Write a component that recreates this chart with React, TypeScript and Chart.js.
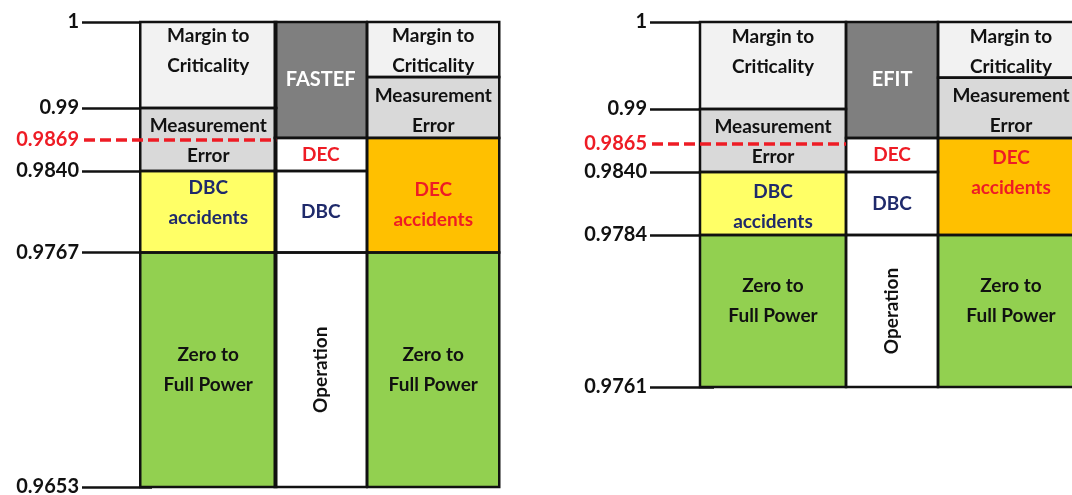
import React, { useEffect, useRef } from "react";
import { Chart, registerables, LinearScale } from "chart.js";

Chart.register(...registerables);

// ---------------- DATA ----------------
// Left panel: FASTEF
const FASTEF_TICKS = [1, 0.99, 0.9869, 0.984, 0.9767, 0.9653];
const FASTEF_TICK_LABELS = ["1", "0.99", "0.9869", "0.9840", "0.9767", "0.9653"];
const FASTEF_LIMIT = 0.9869;
const FASTEF_COLUMNS = ["Limits", "FASTEF", "Design"];
const FASTEF_COL1 = [[0.99, 1], [0.984, 0.99], [0.9767, 0.984], [0.9653, 0.9767]];
const FASTEF_COL1_LABELS = ["Margin to\nCriticality", "Measurement\nError", "DBC\naccidents", "Zero to\nFull Power"];
const FASTEF_COL2 = [[0.9871, 1], [0.984, 0.9871], [0.9767, 0.984], [0.9653, 0.9767]];
const FASTEF_COL2_LABELS = ["FASTEF", "DEC", "DBC", "Operation"];
const FASTEF_COL3 = [[0.9936, 1], [0.9871, 0.9936], [0.9767, 0.9871], [0.9653, 0.9767]];
const FASTEF_COL3_LABELS = ["Margin to\nCriticality", "Measurement\nError", "DEC\naccidents", "Zero to\nFull Power"];

// Right panel: EFIT
const EFIT_TICKS = [1, 0.99, 0.9865, 0.984, 0.9784, 0.9761];
const EFIT_TICK_LABELS = ["1", "0.99", "0.9865", "0.9840", "0.9784", "0.9761"];
const EFIT_LIMIT = 0.9865;
const EFIT_COLUMNS = ["Limits", "EFIT", "Design"];
const EFIT_COL1 = [[0.99, 1], [0.984, 0.99], [0.9784, 0.984], [0.9761, 0.9784]];
const EFIT_COL1_LABELS = ["Margin to\nCriticality", "Measurement\nError", "DBC\naccidents", "Zero to\nFull Power"];
const EFIT_COL2 = [[0.9871, 1], [0.984, 0.9871], [0.9784, 0.984], [0.9761, 0.9784]];
const EFIT_COL2_LABELS = ["EFIT", "DEC", "DBC", "Operation"];
const EFIT_COL3 = [[0.9936, 1], [0.9871, 0.9936], [0.9784, 0.9871], [0.9761, 0.9784]];
const EFIT_COL3_LABELS = ["Margin to\nCriticality", "Measurement\nError", "DEC\naccidents", "Zero to\nFull Power"];

// ---------------- STYLES ----------------
const FONT = "Lato, 'Open Sans', sans-serif";
const NAVY = "#1f2a6b";
const RED = "#ee1c25";
type SegStyle = { bg: string; color: string; valign: number | "middle"; rotate?: boolean; size?: number };
const COL1_STYLE: SegStyle[] = [
  { bg: "#f2f2f2", color: "#111", valign: 14 },
  { bg: "#d9d9d9", color: "#111", valign: 18 },
  { bg: "#ffff66", color: NAVY, valign: 17 },
  { bg: "#92d050", color: "#111", valign: "middle" },
];
const COL2_STYLE: SegStyle[] = [
  { bg: "#7f7f7f", color: "#ffffff", valign: "middle", size: 20 },
  { bg: "#ffffff", color: RED, valign: "middle" },
  { bg: "#ffffff", color: NAVY, valign: "middle" },
  { bg: "#ffffff", color: "#111", valign: "middle", rotate: true },
];
const COL3_STYLE_LEFT: SegStyle[] = [
  { bg: "#f2f2f2", color: "#111", valign: 14 },
  { bg: "#d9d9d9", color: "#111", valign: 19 },
  { bg: "#ffc000", color: RED, valign: 52 },
  { bg: "#92d050", color: "#111", valign: "middle" },
];
const COL3_STYLE_RIGHT: SegStyle[] = [
  { bg: "#f2f2f2", color: "#111", valign: 15 },
  { bg: "#d9d9d9", color: "#111", valign: 18 },
  { bg: "#ffc000", color: RED, valign: 20 },
  { bg: "#92d050", color: "#111", valign: 51 },
];
const COL1_STYLE_RIGHT: SegStyle[] = [
  { bg: "#f2f2f2", color: "#111", valign: 15 },
  { bg: "#d9d9d9", color: "#111", valign: 18 },
  { bg: "#ffff66", color: NAVY, valign: 20 },
  { bg: "#92d050", color: "#111", valign: 51 },
];

// ---------------- PIECEWISE SCALE ----------------
class PiecewiseScale extends LinearScale {
  static id = "piecewise";
  static defaults = (LinearScale as any).defaults;
  getPixelForValue(value: number) {
    const knots: [number, number][] = (this.options as any).knots;
    if (value === null || value === undefined || isNaN(value)) return NaN;
    let frac = 0;
    if (value >= knots[0][0]) frac = knots[0][1];
    else if (value <= knots[knots.length - 1][0]) frac = knots[knots.length - 1][1];
    else {
      for (let i = 0; i < knots.length - 1; i++) {
        const [v0, f0] = knots[i];
        const [v1, f1] = knots[i + 1];
        if (value <= v0 && value >= v1) {
          frac = f0 + ((v0 - value) / (v0 - v1)) * (f1 - f0);
          break;
        }
      }
    }
    return this.top + frac * (this.bottom - this.top);
  }
  getValueForPixel(pixel: number) {
    const knots: [number, number][] = (this.options as any).knots;
    const frac = (pixel - this.top) / (this.bottom - this.top);
    for (let i = 0; i < knots.length - 1; i++) {
      const [v0, f0] = knots[i];
      const [v1, f1] = knots[i + 1];
      if (frac >= f0 && frac <= f1) return v0 + ((frac - f0) / (f1 - f0)) * (v1 - v0);
    }
    return frac < 0 ? knots[0][0] : knots[knots.length - 1][0];
  }
}
Chart.register(PiecewiseScale as any);

type PanelCfg = {
  ticks: number[];
  tickLabels: string[];
  limit: number;
  columns: string[];
  cols: number[][][];
  labels: string[][];
  styles: SegStyle[][];
  thickness: number[];
  knotFracs: number[];
  yWidth: number;
  tickLength: number;
  padding: { top: number; bottom: number; right: number; left: number };
};

const CANVAS_W = 530;
const CANVAS_H = 520;

const LEFT: PanelCfg = {
  ticks: FASTEF_TICKS,
  tickLabels: FASTEF_TICK_LABELS,
  limit: FASTEF_LIMIT,
  columns: FASTEF_COLUMNS,
  cols: [FASTEF_COL1, FASTEF_COL2, FASTEF_COL3],
  labels: [FASTEF_COL1_LABELS, FASTEF_COL2_LABELS, FASTEF_COL3_LABELS],
  styles: [COL1_STYLE, COL2_STYLE, COL3_STYLE_LEFT],
  thickness: [136, 92, 132],
  knotFracs: [0, 86 / 465, 118 / 465, 149 / 465, 230.5 / 465, 1],
  yWidth: 152,
  tickLength: 70,
  padding: { top: 22, bottom: CANVAS_H - 487, right: 40.5, left: 0 },
};

const RIGHT: PanelCfg = {
  ticks: EFIT_TICKS,
  tickLabels: EFIT_TICK_LABELS,
  limit: EFIT_LIMIT,
  columns: EFIT_COLUMNS,
  cols: [EFIT_COL1, EFIT_COL2, EFIT_COL3],
  labels: [EFIT_COL1_LABELS, EFIT_COL2_LABELS, EFIT_COL3_LABELS],
  styles: [COL1_STYLE_RIGHT, COL2_STYLE, COL3_STYLE_RIGHT],
  thickness: [146, 92, 146],
  knotFracs: [0, 87 / 365, 122 / 365, 150 / 365, 213 / 365, 1],
  yWidth: 153.5,
  tickLength: 63.5,
  padding: { top: 22, bottom: CANVAS_H - 387, right: 19.5, left: 0 },
};

function buildChart(canvas: HTMLCanvasElement, cfg: PanelCfg) {
  const datasets: any[] = [];
  cfg.cols.forEach((segs, ci) => {
    segs.forEach((seg, si) => {
      const data = cfg.columns.map((_, k) => (k === ci ? seg : null));
      datasets.push({
        label: cfg.labels[ci][si],
        data,
        backgroundColor: cfg.styles[ci][si].bg,
        borderWidth: 0,
        grouped: false,
        barThickness: cfg.thickness[ci],
        clip: false,
        inflateAmount: 0,
        _style: cfg.styles[ci][si],
        _col: ci,
      });
    });
  });

  const knots = cfg.ticks.map((v, i) => [v, cfg.knotFracs[i]]);

  const overlay = {
    id: "overlay",
    afterDatasetsDraw(chart: any) {
      const ctx = chart.ctx as CanvasRenderingContext2D;
      const y = chart.scales.y;
      // borders
      ctx.save();
      ctx.strokeStyle = "#111";
      ctx.lineWidth = 2.5;
      chart.data.datasets.forEach((ds: any, di: number) => {
        const meta = chart.getDatasetMeta(di);
        meta.data.forEach((el: any, idx: number) => {
          if (ds.data[idx] == null) return;
          const { x, y: top, base, width } = el.getProps(["x", "y", "base", "width"], true);
          ctx.strokeRect(x - width / 2, Math.min(top, base), width, Math.abs(base - top));
        });
      });
      ctx.restore();

      // red dashed limit line across first column
      const col1Meta = chart.getDatasetMeta(0);
      const el0 = col1Meta.data[0];
      const p0 = el0.getProps(["x", "width"], true);
      const ly = y.getPixelForValue(cfg.limit);
      ctx.save();
      ctx.strokeStyle = RED;
      ctx.lineWidth = 3.5;
      ctx.setLineDash([11, 5]);
      ctx.beginPath();
      ctx.moveTo(chart.chartArea.left - cfg.tickLength + 2, ly);
      ctx.lineTo(p0.x + p0.width / 2, ly);
      ctx.stroke();
      ctx.restore();

      // labels
      chart.data.datasets.forEach((ds: any, di: number) => {
        const meta = chart.getDatasetMeta(di);
        meta.data.forEach((el: any, idx: number) => {
          if (ds.data[idx] == null) return;
          const st: SegStyle = ds._style;
          const { x, y: top, base } = el.getProps(["x", "y", "base"], true);
          const t = Math.min(top, base);
          const b = Math.max(top, base);
          const lines = String(ds.label).split("\n");
          const lh = 30;
          const size = st.size || 19;
          ctx.save();
          ctx.fillStyle = st.color;
          ctx.font = `bold ${size}px ${FONT}`;
          ctx.textAlign = "center";
          ctx.textBaseline = "middle";
          if (st.rotate) {
            ctx.translate(x, (t + b) / 2);
            ctx.rotate(-Math.PI / 2);
            ctx.fillText(lines[0], 0, 0);
          } else {
            let y0: number;
            if (st.valign === "middle") y0 = (t + b) / 2 - ((lines.length - 1) * lh) / 2;
            else y0 = t + st.valign;
            lines.forEach((ln, li) => ctx.fillText(ln, x, y0 + li * lh));
          }
          ctx.restore();
        });
      });
    },
  };

  return new Chart(canvas, {
    type: "bar",
    data: { labels: cfg.columns, datasets },
    options: {
      responsive: false,
      animation: false,
      devicePixelRatio: 1,
      layout: { padding: cfg.padding },
      plugins: { legend: { display: false }, tooltip: { enabled: false } },
      scales: {
        x: { type: "category", display: false, offset: true },
        y: {
          type: "piecewise",
          knots,
          min: cfg.ticks[cfg.ticks.length - 1],
          max: cfg.ticks[0],
          afterBuildTicks: (scale: any) => {
            scale.ticks = cfg.ticks.map((v) => ({ value: v }));
          },
          afterFit: (scale: any) => {
            scale.width = cfg.yWidth;
          },
          border: { display: false },
          grid: {
            drawOnChartArea: false,
            drawTicks: true,
            tickLength: cfg.tickLength,
            tickWidth: 2.5,
            tickColor: (c: any) => (c.tick && c.tick.value === cfg.limit ? "rgba(0,0,0,0)" : "#111"),
          },
          ticks: {
            autoSkip: false,
            padding: 3,
            color: (c: any) => (c.tick && c.tick.value === cfg.limit ? RED : "#111"),
            font: { family: FONT, weight: "bold", size: 20, lineHeight: 1 },
            callback: (v: any) => {
              const i = cfg.ticks.indexOf(Number(v));
              return i >= 0 ? cfg.tickLabels[i] : "";
            },
          },
        } as any,
      },
    } as any,
    plugins: [overlay],
  });
}

function Panel({ cfg, left }: { cfg: PanelCfg; left: number }) {
  const ref = useRef<HTMLCanvasElement>(null);
  useEffect(() => {
    if (!ref.current) return;
    const ch = buildChart(ref.current, cfg);
    return () => ch.destroy();
  }, [cfg]);
  return (
    <div style={{ position: "absolute", left, top: 0, width: CANVAS_W, height: CANVAS_H }}>
      <canvas
        ref={ref}
        width={CANVAS_W}
        height={CANVAS_H}
        style={{ width: CANVAS_W, height: CANVAS_H, display: "block" }}
      />
    </div>
  );
}

export default function App() {
  return (
    <div
      style={{
        position: "fixed",
        left: 0,
        top: 0,
        width: 1072,
        height: 495,
        overflow: "hidden",
        background: "#fff",
      }}
    >
      <Panel cfg={LEFT} left={0} />
      <Panel cfg={RIGHT} left={560} />
    </div>
  );
}
